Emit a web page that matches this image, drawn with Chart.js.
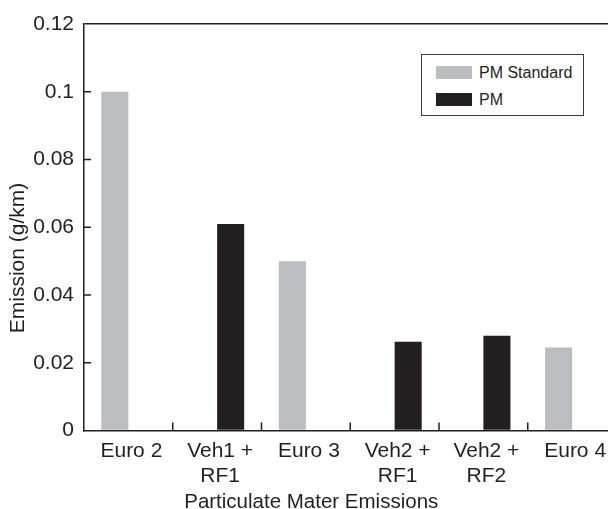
<!DOCTYPE html>
<html>
<head>
<meta charset="utf-8">
<title>Particulate Mater Emissions</title>
<script src="https://cdn.jsdelivr.net/npm/chart.js@4.4.0/dist/chart.umd.min.js"></script>
<style>
  html, body { margin: 0; padding: 0; background: #fff; overflow: hidden; }
  #wrap { position: relative; width: 620px; height: 509px; }
  #legend {
    position: absolute; left: 421px; top: 54px; width: 161px; height: 60px;
    border: 1px solid #3a3a3a; background: #fff;
    font: 16px "Liberation Sans", Arial, sans-serif; color: #231f20;
  }
  .item { position: absolute; left: 14px; height: 13px; display: flex; align-items: center; white-space: nowrap; }
  .swatch { width: 36px; height: 13px; margin-right: 7px; }
</style>
</head>
<body>
<div id="wrap">
  <canvas id="chart"></canvas>
  <div id="legend"></div>
</div>
<script>
// data
const categories = [['Euro 2'], ['Veh1 +', 'RF1'], ['Euro 3'], ['Veh2 +', 'RF1'], ['Veh2 +', 'RF2'], ['Euro 4']];
const pmStandard = [0.1, null, 0.05, null, null, 0.0245];
const pmValues = [null, 0.061, null, 0.0262, 0.028, null];
const yTickLabels = ['0', '0.02', '0.04', '0.06', '0.08', '0.1', '0.12'];

const axisColor = '#231f20';
const fontFamily = '"Liberation Sans", Arial, Helvetica, sans-serif';

// small tick marks pointing into the plot, like the original figure
const innerTicks = {
    id: 'innerTicks',
    afterDatasetsDraw(chart) {
        const { ctx, chartArea, scales: { x, y } } = chart;
        ctx.save();
        ctx.strokeStyle = axisColor;
        ctx.lineWidth = 1.5;
        ctx.beginPath();
        for (let i = 1; i < y.ticks.length - 1; i++) {
            const py = y.getPixelForTick(i);
            ctx.moveTo(chartArea.left, py);
            ctx.lineTo(chartArea.left + 7, py);
        }
        for (let i = 0; i < categories.length - 1; i++) {
            const px = (x.getPixelForValue(i) + x.getPixelForValue(i + 1)) / 2;
            ctx.moveTo(px, chartArea.bottom);
            ctx.lineTo(px, chartArea.bottom - 8);
        }
        ctx.stroke();
        ctx.restore();
    }
};

const chart = new Chart(document.getElementById('chart'), {
    type: 'bar',
    data: {
        labels: categories,
        datasets: [
            { label: 'PM Standard', data: pmStandard, backgroundColor: '#bcbdc0' },
            { label: 'PM', data: pmValues, backgroundColor: '#231f20' }
        ]
    },
    options: {
        responsive: true,
        maintainAspectRatio: false,
        animation: false,
        layout: { padding: { left: 6, top: 7, right: 3.5, bottom: 0 } },
        datasets: { bar: { categoryPercentage: 0.61, barPercentage: 1.0 } },
        plugins: {
            legend: { display: false },
            tooltip: { enabled: false },
            title: {
                display: true,
                position: 'bottom',
                text: 'Particulate Mater Emissions',
                color: axisColor,
                font: { family: fontFamily, size: 20.5, weight: 'normal' },
                padding: { top: 6, bottom: -6 }
            },
            subtitle: {
                display: true,
                position: 'left',
                text: 'Emission (g/km)',
                color: axisColor,
                font: { family: fontFamily, size: 21, weight: 'normal' },
                padding: 0
            }
        },
        scales: {
            x: {
                grid: { display: false },
                border: { display: true, color: axisColor, width: 1.5 },
                ticks: {
                    color: axisColor,
                    padding: 0,
                    labelOffset: 3,
                    maxRotation: 0,
                    autoSkip: false,
                    font: { family: fontFamily, size: 21, lineHeight: 1.2 }
                },
                afterFit(scale) { scale.height = 53.8; }
            },
            // empty top axis, only keeps a strip above the plot
            xTop: {
                position: 'top',
                grid: { display: false },
                border: { display: false },
                ticks: { display: false },
                afterFit(scale) { scale.height = 17; }
            },
            y: {
                min: 0,
                max: 0.12,
                ticks: {
                    stepSize: 0.02,
                    color: axisColor,
                    padding: 10,
                    font: { family: fontFamily, size: 21 },
                    callback: (value, index) => yTickLabels[index]
                },
                grid: {
                    drawTicks: false,
                    lineWidth: 1.5,
                    color: c => c.index === yTickLabels.length - 1 ? axisColor : 'transparent'
                },
                border: { display: true, color: axisColor, width: 1.5 },
                afterFit(scale) { scale.width = 52.8; }
            }
        }
    },
    plugins: [innerTicks]
});

// legend box drawn as html, built from the chart's datasets
const legendEl = document.getElementById('legend');
const rowTops = [11, 38];
chart.data.datasets.forEach((ds, i) => {
    const item = document.createElement('div');
    item.className = 'item';
    item.style.top = rowTops[i] + 'px';
    item.innerHTML = `<span class="swatch" style="background:${ds.backgroundColor}"></span><span>${ds.label}</span>`;
    legendEl.appendChild(item);
});
</script>
</body>
</html>
